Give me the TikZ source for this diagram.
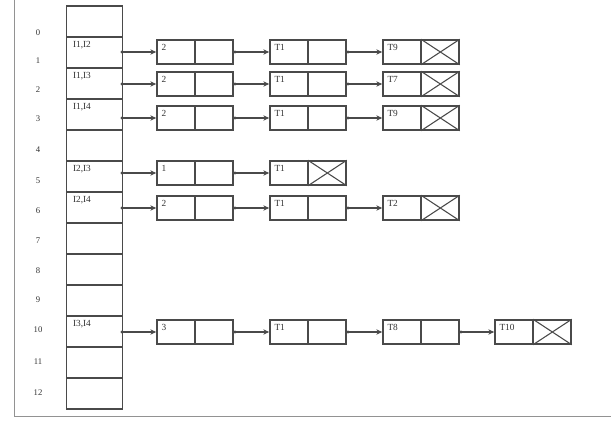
\documentclass[tikz,border=0pt]{standalone}
\usepackage{fontspec}
\setmainfont{Liberation Serif}
\usetikzlibrary{arrows.meta}
\definecolor{ln}{HTML}{4A4A4A}
\definecolor{tx}{HTML}{333333}
\tikzset{
  tcell/.style={draw=ln, line width=1.1pt, minimum width=42pt, minimum height=23.25pt, inner sep=0pt},
  lbox/.style={draw=ln, line width=1.1pt, minimum width=57pt, minimum height=18pt, inner sep=0pt},
  idx/.style={text=tx, font=\fontsize{6.5}{7}\selectfont},
  ctext/.style={text=tx, font=\fontsize{7}{8}\selectfont, anchor=north west, inner sep=0pt},
  btext/.style={text=tx, font=\fontsize{7}{8}\selectfont, anchor=north west, inner sep=0pt},
  link/.style={draw=ln, line width=1pt, {Circle[length=2pt]}-{Stealth[length=4.5pt,width=4pt]}},
  frame/.style={draw=ln!60, line width=0.7pt}
}
\newcommand{\mkbox}[4]{% name, x, y, text
  \node[lbox] (#1) at (#2,#3) {};
  \draw[ln, line width=1.1pt] (#1.north) -- (#1.south);
  \node[btext] at ([shift={(5,5)}]#1.north west) {#4};
}
\newcommand{\mkcross}[1]{%
  \draw[ln, line width=0.8pt] (#1.north) -- (#1.south east) (#1.south) -- (#1.north east);
}
\begin{document}
\begin{tikzpicture}[x=0.75pt,y=-0.75pt]
\useasboundingbox (0,0) rectangle (611,421);
\fill[white] (0,0) rectangle (611,421);
% frame
\draw[frame] (14,0) -- (14,416) -- (611,416);
% table
\foreach \k in {0,...,12} {
  \node[tcell] (c\k) at (94.5,{21.5+31*\k}) {};
}
% index labels
\foreach \k/\yy in {0/33,1/61,2/90,3/119,4/150,5/181,6/211,7/241,8/271,9/300,10/330,11/362,12/393} {
  \node[idx] (i\k) at (38,\yy) {\k};
}
% cell texts
\node[ctext] (t1) at ([shift={(7,5)}]c1.north west) {I1,I2};
\node[ctext] (t2) at ([shift={(7,5)}]c2.north west) {I1,I3};
\node[ctext] (t3) at ([shift={(7,5)}]c3.north west) {I1,I4};
\node[ctext] (t5) at ([shift={(7,5)}]c5.north west) {I2,I3};
\node[ctext] (t6) at ([shift={(7,5)}]c6.north west) {I2,I4};
\node[ctext] (t10) at ([shift={(7,5)}]c10.north west) {I3,I4};
% row 1
\mkbox{a1}{195}{52}{2}
\mkbox{b1}{308}{52}{T1}
\mkbox{d1}{421}{52}{T9}\mkcross{d1}
% row 2
\mkbox{a2}{195}{84}{2}
\mkbox{b2}{308}{84}{T1}
\mkbox{d2}{421}{84}{T7}\mkcross{d2}
% row 3
\mkbox{a3}{195}{118}{2}
\mkbox{b3}{308}{118}{T1}
\mkbox{d3}{421}{118}{T9}\mkcross{d3}
% row 5
\mkbox{a5}{195}{173}{1}
\mkbox{b5}{308}{173}{T1}\mkcross{b5}
% row 6
\mkbox{a6}{195}{208}{2}
\mkbox{b6}{308}{208}{T1}
\mkbox{d6}{421}{208}{T2}\mkcross{d6}
% row 10
\mkbox{a10}{195}{332}{3}
\mkbox{b10}{308}{332}{T1}
\mkbox{d10}{421}{332}{T8}
\mkbox{e10}{533}{332}{T10}\mkcross{e10}
% links
\foreach \r in {1,2,3,5,6,10} {
  \draw[link] ([xshift=-2pt]c\r.east |- a\r.west) -- (a\r.west);
  \draw[link] (a\r.east) -- (b\r.west);
}
\foreach \r in {1,2,3,6,10} {
  \draw[link] (b\r.east) -- (d\r.west);
}
\draw[link] (d10.east) -- (e10.west);
\end{tikzpicture}
\end{document}
